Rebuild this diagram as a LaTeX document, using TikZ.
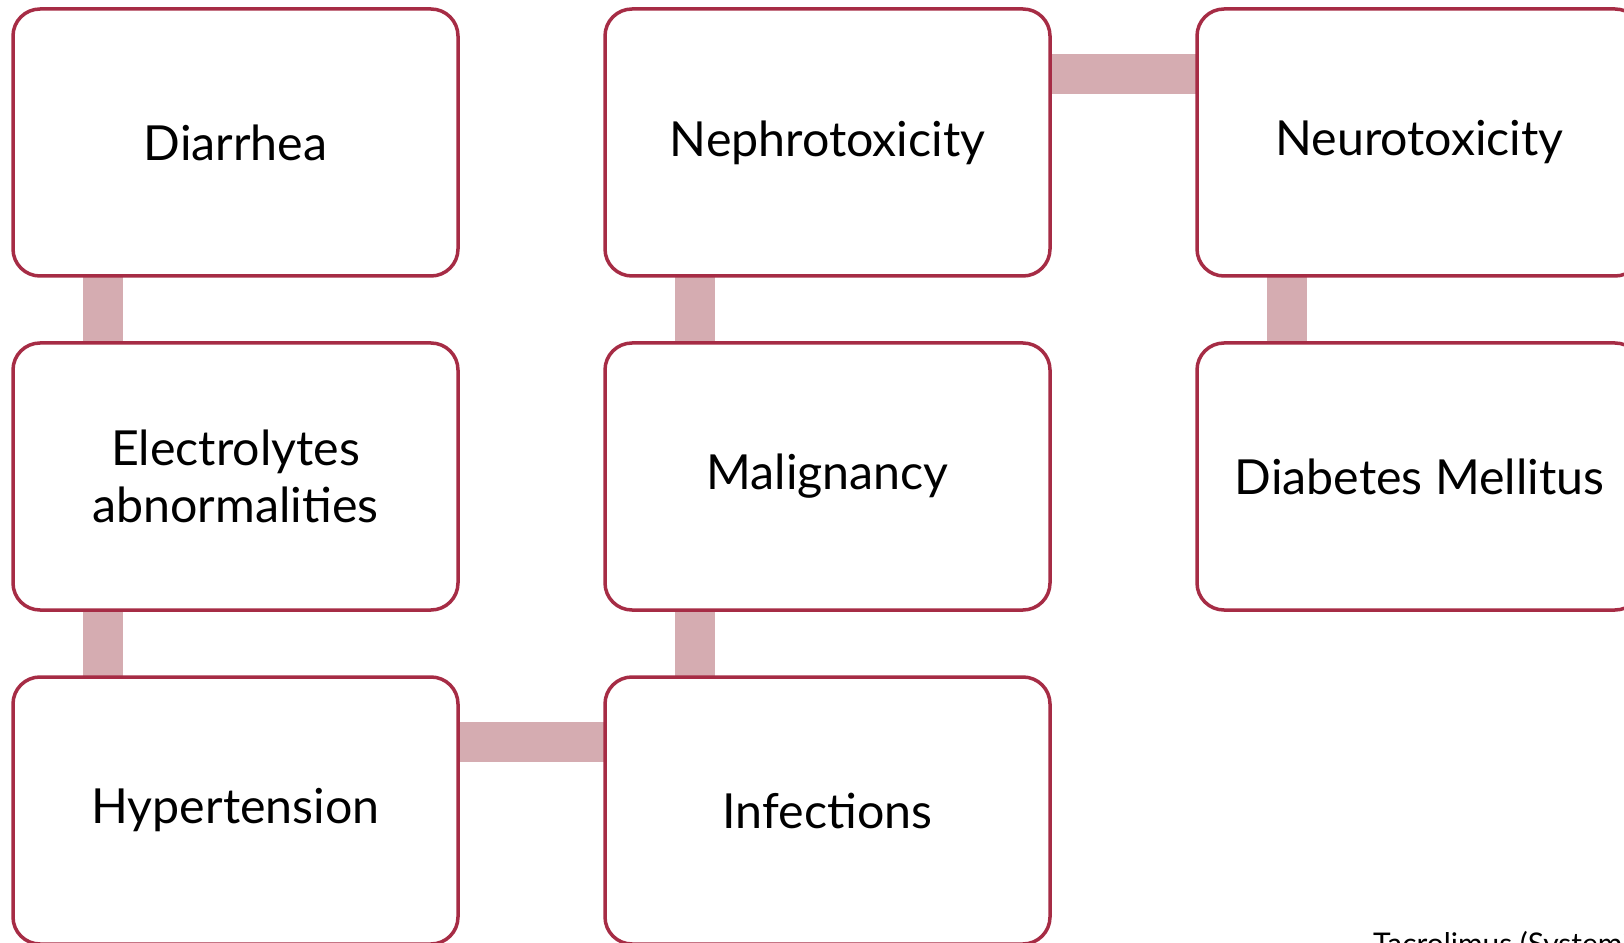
\documentclass[tikz,border=0pt]{standalone}
\usepackage{fontspec}
\setmainfont{Lato}
\usetikzlibrary{positioning,calc,backgrounds}
\definecolor{boxred}{RGB}{166,44,69}
\definecolor{linkpink}{RGB}{213,172,177}

\begin{document}
\begin{tikzpicture}[
  effbox/.style={
    rectangle, rounded corners=0.54cm,
    draw=boxred, line width=0.07cm,
    fill=white,
    minimum width=8.9cm, minimum height=5.34cm,
    align=center, inner sep=0pt, outer sep=0pt,
    font=\fontsize{27.5}{32.4}\selectfont,
  },
  link/.style={draw=linkpink, line width=0.8cm},
]
\useasboundingbox (0,0) rectangle (32.48,18.84);

% ----- grid of side-effect boxes -----
\def\gapH{2.94cm}
\def\gapV{1.34cm}

% column 1
\node[effbox] (diar) at (4.71,15.99) {Diarrhea};
\node[effbox, below=\gapV of diar] (elec) {Electrolytes\\abnormalities};
\node[effbox, below=\gapV of elec] (hyper) {Hypertension};

% column 2
\node[effbox, right=\gapH of diar] (nephro) {Nephrotoxicity};
\node[effbox, below=\gapV of nephro] (malig) {Malignancy};
\node[effbox, below=\gapV of malig] (infect) {Infections};

% column 3
\node[effbox, right=\gapH of nephro] (neuro) {Neurotoxicity};
\node[effbox, below=\gapV of neuro] (diab) {Diabetes Mellitus};

% ----- connecting bars, behind the boxes -----
\begin{scope}[on background layer]
  \draw[link] ($(diar.south west)+(1.8,0)$) -- ($(elec.north west)+(1.8,0)$);
  \draw[link] ($(elec.south west)+(1.8,0)$) -- ($(hyper.north west)+(1.8,0)$);
  \draw[link] ($(hyper.north east)+(0,-1.3)$) -- ($(infect.north west)+(0,-1.3)$);
  \draw[link] ($(infect.north west)+(1.8,0)$) -- ($(malig.south west)+(1.8,0)$);
  \draw[link] ($(malig.north west)+(1.8,0)$) -- ($(nephro.south west)+(1.8,0)$);
  \draw[link] ($(nephro.north east)+(0,-1.3)$) -- ($(neuro.north west)+(0,-1.3)$);
  \draw[link] ($(neuro.south west)+(1.8,0)$) -- ($(diab.north west)+(1.8,0)$);
\end{scope}

% source note, cut off at the page edge
\node[anchor=base west, font=\fontsize{17}{20}\selectfont] (src) at (27.34,-0.24) {Tacrolimus (Systemic)};

\end{tikzpicture}
\end{document}
